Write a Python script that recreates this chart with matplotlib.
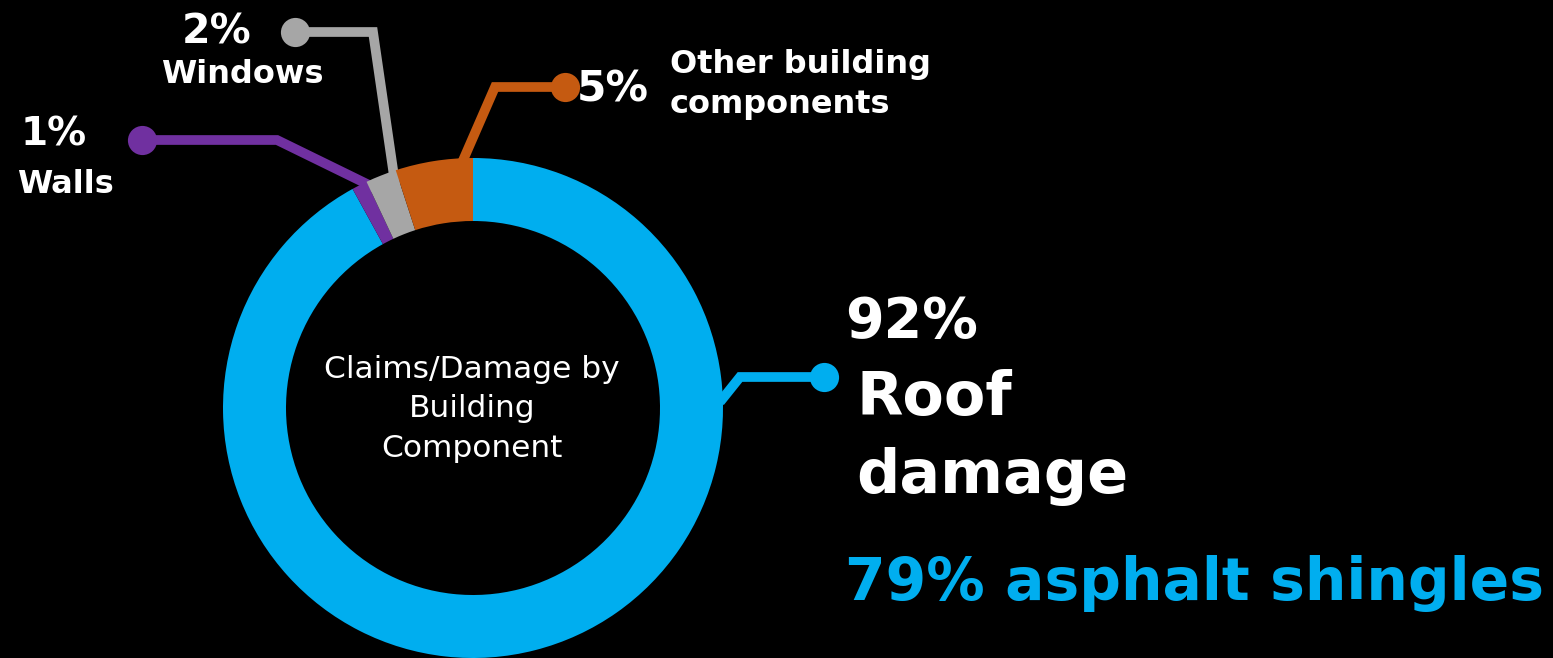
import matplotlib
matplotlib.use("Agg")
import matplotlib.pyplot as plt

# ---- data ----
categories = ["Roof damage", "Walls", "Windows", "Other building components"]
values = [92, 1, 2, 5]
pct_labels = ["92%", "1%", "2%", "5%"]
colors = ["#00AEEF", "#7030A0", "#A6A6A6", "#C55A11"]
sub_note = "79% asphalt shingles"
center_title = "Claims/Damage by\nBuilding\nComponent"

W, H = 1553, 658
FONT = ["DejaVu Sans"]

fig = plt.figure(figsize=(W / 100, H / 100), dpi=100, facecolor="black")
ax = fig.add_axes([0, 0, 1, 1])
ax.set_facecolor("black")

def Y(y):
    return H - y

cx, cy, R, ring = 473, 408, 250, 63

# connector lines (under the ring)
def connector(pts, color):
    xs = [p[0] for p in pts]
    ys = [Y(p[1]) for p in pts]
    ax.plot(xs, ys, color=color, lw=7, solid_joinstyle="miter", solid_capstyle="butt", zorder=1)
    ax.plot([xs[-1]], [ys[-1]], "o", color=color, ms=21, mew=0, zorder=2)

connector([(720, 402), (740, 377), (824, 377)], colors[0])
connector([(372, 192), (367, 184), (277, 140), (142, 140)], colors[1])
connector([(396, 190), (373, 32), (295, 32)], colors[2])
connector([(461, 165), (495, 87), (565, 87)], colors[3])

ax.pie(values, colors=colors, startangle=90, counterclock=False,
       radius=R, center=(cx, Y(cy)),
       wedgeprops=dict(width=ring, linewidth=0), frame=True)
for w in ax.patches:
    w.set_zorder(3)

ax.set_xlim(0, W)
ax.set_ylim(0, H)
ax.set_aspect("equal")
ax.axis("off")

def txt(x, y, s, size, ha="left", color="white", weight="bold"):
    ax.text(x, Y(y), s, fontsize=size, ha=ha, va="baseline", color=color,
            fontweight=weight, family=FONT, zorder=5)

# center title
for i, line in enumerate(center_title.split("\n")):
    txt(472, [378, 417, 457][i], line, 22.5, ha="center", weight="normal")

# labels
txt(217, 43, pct_labels[2], 29.5, ha="center")
txt(242, 83, categories[2], 23, ha="center")
txt(54, 145, pct_labels[1], 28, ha="center")
txt(65, 193, categories[1], 23, ha="center")
txt(577, 102, pct_labels[3], 30.5)
txt(670, 73, "Other building", 23)
txt(670, 113, "components", 23)
txt(845, 337, pct_labels[0], 40)
txt(856, 415, "Roof", 43.5)
txt(856, 493, "damage", 43.5)
txt(845, 600, sub_note, 42, color=colors[0])

fig.savefig("out.png", dpi=100, facecolor="black")
